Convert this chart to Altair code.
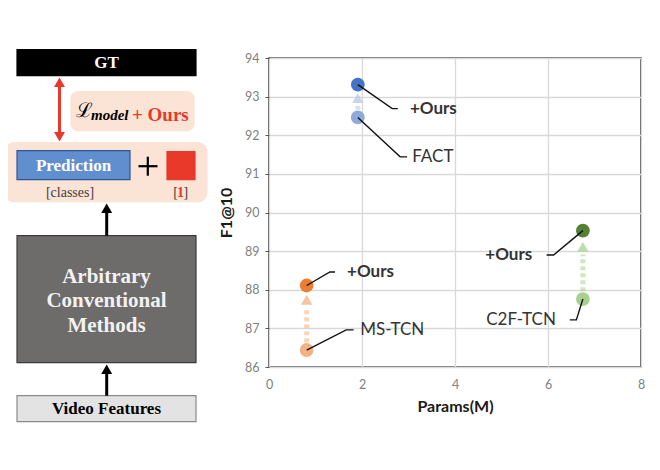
import altair as alt
import pandas as pd

# ---------------- scatter values ----------------
methods = ["MS-TCN", "FACT", "C2F-TCN"]
params_m = [0.81, 1.91, 6.75]
f1_base = [86.44, 92.46, 87.76]
f1_ours = [88.11, 93.31, 89.53]
base_colors = ["#f4b183", "#8eaadb", "#a9d18e"]
ours_colors = ["#ed7d31", "#4472c4", "#548235"]
arrow_colors = ["#f4b183", "#b4c7e7", "#a9d18e"]
arrow_tip = [87.74, 92.96, 89.11]
x_ticks = [0, 2, 4, 6, 8]
y_ticks = [86, 87, 88, 89, 90, 91, 92, 93, 94]

# annotation labels (anchor = which point, elbow and end of leader line, text position)
lab_text = ["MS-TCN", "+Ours", "FACT", "+Ours", "C2F-TCN", "+Ours"]
lab_method = [0, 0, 1, 1, 2, 2]
lab_is_ours = [False, True, False, True, False, True]
lab_elbow_x = [1.66, 1.31, 2.82, 2.65, 6.61, 6.12]
lab_elbow_y = [86.96, 88.46, 91.44, 92.69, 87.22, 88.90]
lab_end_x = [1.82, 1.42, 2.97, 2.77, 6.47, 5.97]
lab_text_x = [1.96, 1.68, 3.08, 3.03, 6.17, 5.66]
lab_side = ["left", "left", "left", "left", "right", "right"]

# ---------------- diagram (pixel layout) ----------------
box_name = ["group", "loss", "gt", "pred", "red", "arb", "video"]
box_x1 = [5, 71, 17, 17, 167, 17, 17]
box_x2 = [207, 194, 196, 130, 195, 196, 196]
box_y1 = [143, 92, 50, 151, 152, 236, 396]
box_y2 = [202, 131, 76, 180, 180, 363, 422]
box_fill = ["#fbe3d6", "#fbe3d6", "#000000", "#5f8fcf", "#e8392b", "#6e6b6b", "#e3e3e3"]
box_stroke = ["#fbe3d6", "#fbe3d6", "#000000", "#2f5597", "#e8392b", "#3a3a3a", "#8a8a8a"]
box_radius = [9, 7, 0, 0, 0, 0, 0]

# ---------------- build tables ----------------
PAD_L = 261
PLOT_W = 372.0
PX0, PX1 = PAD_L + 8.0, PAD_L + 8.0 + PLOT_W
PY0, PY1 = 58.3, 367.3

pts = pd.DataFrame({
    "x": params_m * 2,
    "y": f1_base + f1_ours,
    "c": base_colors + ours_colors,
})
arrows = pd.DataFrame({
    "x": params_m,
    "y": [b + 0.2 for b in f1_base],
    "y1": [t - 0.2 for t in arrow_tip],
    "tip": arrow_tip,
    "c": arrow_colors,
})
rows = []
for i in range(len(lab_text)):
    m = lab_method[i]
    ay = f1_ours[m] if lab_is_ours[i] else f1_base[m]
    rows.append({"id": i, "k": 0, "x": params_m[m], "y": ay})
    rows.append({"id": i, "k": 1, "x": lab_elbow_x[i], "y": lab_elbow_y[i]})
    rows.append({"id": i, "k": 2, "x": lab_end_x[i], "y": lab_elbow_y[i]})
leaders = pd.DataFrame(rows)
labels = pd.DataFrame({
    "t": lab_text, "x": lab_text_x, "y": lab_elbow_y,
    "side": lab_side, "bold": lab_is_ours,
})

sx = alt.Scale(domain=[0, 8], nice=False, zero=False)
sy = alt.Scale(domain=[86, 94], nice=False, zero=False)
x_axis = alt.Axis(values=x_ticks, labelFlush=False, labelOverlap=False, grid=True,
                  gridColor="#d9d9d9", gridWidth=1.3, domain=False, ticks=False, labelPadding=11,
                  labelColor="#7f7f7f", labelFont="Lato", labelFontSize=12.5,
                  titleFont="Lato", titleFontSize=16, titleFontWeight="bold",
                  titleColor="#1a1a1a", titlePadding=8)
y_axis = alt.Axis(values=y_ticks, labelFlush=False, labelOverlap=False, grid=True,
                  gridColor="#d9d9d9", gridWidth=1.3, domain=False, ticks=True, tickSize=4,
                  tickColor="#595959", labelPadding=6, labelColor="#7f7f7f", labelFont="Lato",
                  labelFontSize=12.5, titleFont="Lato", titleFontSize=16, titleFontWeight="bold",
                  titleColor="#1a1a1a", titlePadding=10)
X = alt.X("x:Q", scale=sx, title="Params(M)", axis=x_axis)
Y = alt.Y("y:Q", scale=sy, title="F1@10", axis=y_axis)

arrow_rule = alt.Chart(arrows).mark_rule(strokeWidth=5, strokeDash=[4, 3], opacity=0.55).encode(
    x=X, y=Y, y2="y1:Q", color=alt.Color("c:N", scale=None))
arrow_head = alt.Chart(arrows).mark_point(shape="triangle-up", filled=True, size=130, opacity=0.75).encode(
    x=X, y=alt.Y("tip:Q", scale=sy, title="F1@10", axis=y_axis), color=alt.Color("c:N", scale=None))
base_layer = alt.Chart(pts).mark_circle(size=190, opacity=1).encode(
    x=X, y=Y, color=alt.Color("c:N", scale=None))
leader_layer = alt.Chart(leaders).mark_line(color="#111111", strokeWidth=1.4).encode(
    x=X, y=Y, detail="id:N", order="k:Q")

def lab_layer(side, bold):
    d = labels[(labels.side == side) & (labels.bold == bold)]
    return alt.Chart(d).mark_text(
        align=side, baseline="middle", font="Lato", fontSize=17,
        fontWeight="bold" if bold else "normal", color="#333333",
    ).encode(x=X, y=Y, text="t:N")

scatter = alt.layer(
    arrow_rule, arrow_head, base_layer, leader_layer,
    lab_layer("left", True), lab_layer("left", False),
    lab_layer("right", True), lab_layer("right", False),
)

# ---------------- diagram layers ----------------
dx = alt.Scale(domain=[PX0, PX1], nice=False, zero=False)
dy = alt.Scale(domain=[PY0, PY1], nice=False, zero=False, reverse=True)
DX = alt.X("px:Q", scale=dx, axis=None)
DY = alt.Y("py:Q", scale=dy, axis=None)

boxes = pd.DataFrame({"n": box_name, "px": box_x1, "px2": box_x2, "py": box_y1, "py2": box_y2,
                      "f": box_fill, "s": box_stroke, "r": box_radius})
box_layers = []
for i in range(len(box_name)):
    d = boxes.iloc[[i]]
    box_layers.append(alt.Chart(d).mark_rect(cornerRadius=box_radius[i], strokeWidth=1.2).encode(
        x=DX, x2="px2:Q", y=DY, y2="py2:Q",
        fill=alt.Fill("f:N", scale=None), stroke=alt.Stroke("s:N", scale=None)))

vrules = pd.DataFrame({"px": [59.5, 106.7, 106.7], "py": [82, 212, 374], "py2": [137, 236, 396],
                       "c": ["#e5392c", "#000000", "#000000"]})
vrule_layer = alt.Chart(vrules).mark_rule(strokeWidth=3).encode(
    x=DX, y=DY, y2="py2:Q", color=alt.Color("c:N", scale=None))
heads = pd.DataFrame({"px": [59.5, 59.5, 106.7, 106.7], "py": [82.5, 137.0, 208.5, 369.5],
                      "shape": ["triangle-up", "triangle-down", "triangle-up", "triangle-up"],
                      "c": ["#e5392c", "#e5392c", "#000000", "#000000"]})
head_layer = alt.Chart(heads).mark_point(filled=True, size=120, opacity=1).encode(
    x=DX, y=DY, shape=alt.Shape("shape:N", scale=None), color=alt.Color("c:N", scale=None))
plus = pd.DataFrame({"px": [138.5, 147.8], "px2": [157.5, 147.8], "py": [166.5, 157.0], "py2": [166.5, 176.0]})
plus_layer = alt.Chart(plus).mark_rule(strokeWidth=2.2, color="#000000").encode(
    x=DX, x2="px2:Q", y=DY, y2="py2:Q")

def dtext(t, px, py, **kw):
    d = pd.DataFrame({"t": [t], "px": [px], "py": [py]})
    props = dict(font="Liberation Serif", fontWeight="bold", baseline="middle", align="center")
    props.update(kw)
    return alt.Chart(d).mark_text(**props).encode(x=DX, y=DY, text="t:N")

texts = [
    dtext("GT", 106.5, 63.5, fontSize=17, color="#ffffff"),
    dtext("\u2112", 84, 117.5, fontSize=20, fontWeight="normal", font="DejaVu Serif",
          color="#000000", baseline="alphabetic"),
    dtext("model", 91, 120, fontSize=15, fontStyle="italic", color="#000000",
          align="left", baseline="alphabetic"),
    dtext("+ Ours", 132, 121, fontSize=19, color="#e5392c", align="left", baseline="alphabetic"),
    dtext("Prediction", 73.5, 166, fontSize=17, color="#ffffff"),
    dtext("[classes]", 70, 193, fontSize=14, fontWeight="normal", color="#404040"),
    dtext("[", 175.5, 193, fontSize=14, fontWeight="normal", color="#404040"),
    dtext("1", 180.6, 193, fontSize=14, color="#e5392c"),
    dtext("]", 185.8, 193, fontSize=14, fontWeight="normal", color="#404040"),
    dtext("Arbitrary", 106.5, 277, fontSize=21, color="#f2f2f2"),
    dtext("Conventional", 106.5, 301, fontSize=21, color="#f2f2f2"),
    dtext("Methods", 106.5, 326, fontSize=21, color="#f2f2f2"),
    dtext("Video Features", 106.5, 409.5, fontSize=17, color="#000000"),
]

diagram = alt.layer(*box_layers, vrule_layer, head_layer, plus_layer, *texts)

chart = alt.layer(diagram, scatter).resolve_scale(
    x="independent", y="independent"
).properties(
    width=PLOT_W, height=PY1 - PY0,
    autosize=alt.AutoSizeParams(type="none"),
    padding={"left": PAD_L, "top": 50, "right": 6, "bottom": 75},
    background="#ffffff",
).configure_view(stroke="#404040", strokeWidth=1.6)

chart.save("out.html", embed_options={"renderer": "svg", "actions": False})
